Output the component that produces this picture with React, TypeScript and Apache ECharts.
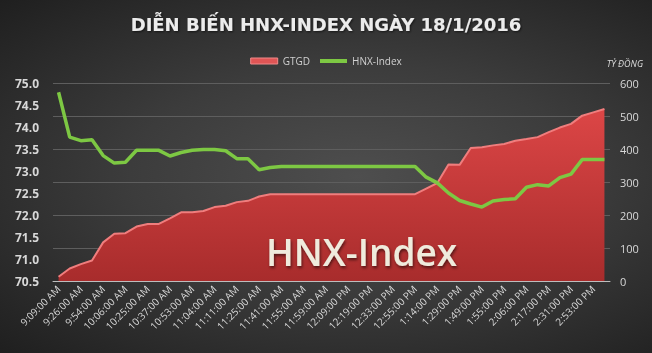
import React, { useEffect, useRef } from "react";
import * as echarts from "echarts";

const timeLabels = [
  "9:09:00 AM", "9:26:00 AM", "9:54:00 AM", "10:06:00 AM", "10:25:00 AM",
  "10:37:00 AM", "10:53:00 AM", "11:04:00 AM", "11:11:00 AM", "11:25:00 AM",
  "11:41:00 AM", "11:55:00 AM", "11:59:00 AM", "12:09:00 PM", "12:19:00 PM",
  "12:33:00 PM", "12:55:00 PM", "1:14:00 PM", "1:29:00 PM", "1:49:00 PM",
  "1:55:00 PM", "2:06:00 PM", "2:17:00 PM", "2:31:00 PM", "2:53:00 PM",
];

// HNX-Index (left axis)
const hnxIndex = [
  74.79, 73.77, 73.69, 73.71, 73.35, 73.18, 73.2, 73.47, 73.47, 73.47,
  73.34, 73.42, 73.47, 73.49, 73.49, 73.46, 73.28, 73.28, 73.03, 73.08,
  73.1, 73.1, 73.1, 73.1, 73.1, 73.1, 73.1, 73.1, 73.1, 73.1,
  73.1, 73.1, 73.1, 72.86, 72.73, 72.5, 72.33, 72.25, 72.18, 72.32,
  72.35, 72.37, 72.63, 72.69, 72.66, 72.85, 72.93, 73.26, 73.26, 73.26,
];

// GTGD - trading value, billion VND (right axis)
const gtgd = [
  13, 38, 51, 62, 117, 143, 145, 165, 173, 173,
  190, 208, 208, 212, 224, 228, 239, 243, 256, 263,
  263, 263, 263, 263, 263, 263, 263, 263, 263, 263,
  263, 263, 263, 280, 297, 353, 352, 403, 405, 411,
  415, 425, 430, 436, 451, 465, 476, 501, 511, 521,
];

const leftTicks = { min: 70.5, max: 75, interval: 0.5 };
const rightTicks = { min: 0, max: 600, interval: 100 };

export default function App() {
  const ref = useRef<HTMLDivElement>(null);
  useEffect(() => {
    if (!ref.current) return;
    const chart = echarts.init(ref.current, null, { renderer: "svg" });
    const categories = hnxIndex.map((_, i) => String(i));
    chart.setOption({
      animation: false,
      backgroundColor: "transparent",
      title: {
        text: "DIỄN BIẾN HNX-INDEX NGÀY 18/1/2016",
        left: "center",
        top: 10,
        textStyle: {
          color: "#ececec",
          fontSize: 18,
          fontWeight: "bold",
          fontFamily: "DejaVu Sans",
          textShadowColor: "rgba(0,0,0,0.6)",
          textShadowBlur: 2,
          textShadowOffsetX: 1,
          textShadowOffsetY: 1,
        },
      },
      legend: {
        top: 51,
        left: "center",
        itemWidth: 27,
        itemHeight: 6,
        itemGap: 10,
        textStyle: { color: "#d0d0d0", fontSize: 10, fontFamily: "Open Sans" },
        data: [
          { name: "GTGD", icon: "rect", itemStyle: { color: "#e05555", borderColor: "#f08a8a", borderWidth: 1 } },
          { name: "HNX-Index", icon: "path://M0,0 H27 V4 H0 Z", itemStyle: { color: "#7dc843" } },
        ],
      },
      grid: { left: 53, right: 42, top: 83, bottom: 72, containLabel: false },
      xAxis: {
        type: "category",
        data: categories,
        boundaryGap: true,
        axisLine: { lineStyle: { color: "#bdbdbd", width: 1 } },
        axisTick: { interval: 0, length: 4, lineStyle: { color: "#bdbdbd" } },
        axisLabel: {
          interval: 0,
          rotate: 45,
          color: "#d8d8d8",
          fontSize: 10,
          fontFamily: "Open Sans",
          margin: 6,
          formatter: (_v: string, idx: number) => (idx % 2 === 0 ? timeLabels[idx / 2] : ""),
        },
        splitLine: { show: false },
      },
      yAxis: [
        {
          type: "value",
          position: "left",
          ...leftTicks,
          axisLine: { show: false },
          axisTick: { show: false },
          splitLine: { show: false },
          axisLabel: {
            color: "#d8d8d8",
            fontSize: 12,
            fontWeight: "bold",
            fontFamily: "Open Sans",
            margin: 14,
            formatter: (v: number) => v.toFixed(1),
          },
        },
        {
          type: "value",
          position: "right",
          ...rightTicks,
          axisLine: { show: false },
          axisTick: { show: false },
          splitLine: { show: true, lineStyle: { color: "#5e5e5e", width: 1 } },
          axisLabel: { color: "#d8d8d8", fontSize: 11, fontFamily: "Open Sans", margin: 10 },
        },
      ],
      series: [
        {
          name: "GTGD",
          type: "line",
          yAxisIndex: 1,
          data: gtgd,
          symbol: "none",
          z: 1,
          lineStyle: { color: "#f07d7d", width: 2 },
          areaStyle: {
            opacity: 1,
            color: new echarts.graphic.LinearGradient(0, 0, 0, 1, [
              { offset: 0, color: "#dc4646" },
              { offset: 1, color: "#a82c2c" },
            ]),
          },
        },
        {
          name: "HNX-Index",
          type: "line",
          yAxisIndex: 0,
          data: hnxIndex,
          symbol: "none",
          z: 3,
          lineStyle: { color: "#7dc843", width: 3.5 },
        },
      ],
      graphic: [
        {
          type: "text",
          right: 9,
          top: 59,
          style: {
            text: "TỶ ĐỒNG",
            fill: "#dcdcdc",
            fontSize: 9,
            fontStyle: "italic",
            fontFamily: "Open Sans",
          },
        },
        {
          type: "text",
          left: 266,
          top: 233,
          z: 2,
          style: {
            text: "HNX-Index",
            fill: "#efebdd",
            fontSize: 37,
            fontWeight: 600,
            fontFamily: "Open Sans",
            textShadowColor: "rgba(0,0,0,0.55)",
            textShadowBlur: 3,
            textShadowOffsetX: 1,
            textShadowOffsetY: 2,
          },
        },
      ],
    });
    return () => chart.dispose();
  }, []);
  return (
    <div
      ref={ref}
      style={{
        position: "fixed",
        left: 0,
        top: 0,
        width: 652,
        height: 353,
        background: "radial-gradient(ellipse at 55% 50%, #4e4e4e 0%, #3c3c3c 45%, #1f1f1f 100%)",
      }}
    />
  );
}
